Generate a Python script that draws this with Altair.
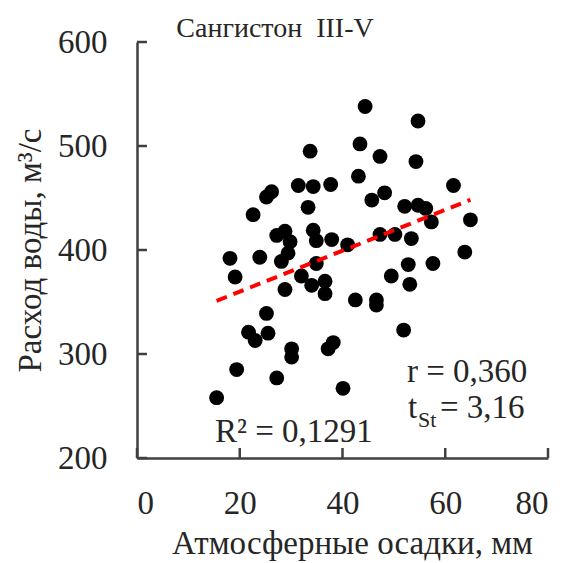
import altair as alt
import pandas as pd

precip = [15.5, 18.1, 19.1, 19.4, 21.7, 23.0, 22.6, 23.9, 25.2, 25.5,
          25.2, 26.2, 27.2, 27.2, 28.8, 29.8, 29.4, 28.1, 28.8, 30.1,
          30.1, 31.4, 32.0, 33.3, 33.7, 34.3, 34.3, 34.9, 34.9, 34.0,
          36.6, 36.6, 37.2, 38.2, 37.7, 37.9, 40.1, 41.0, 42.5, 43.1,
          43.4, 44.4, 45.7, 46.6, 46.6, 47.3, 47.3, 48.2, 49.5, 50.2,
          51.9, 52.1, 52.8, 53.1, 53.4, 54.3, 54.7, 54.7, 56.2, 57.3,
          57.6, 61.6, 63.8, 64.9]
flow = [258, 392, 374, 285, 321, 313, 434, 393, 339, 320,
        451, 456, 277, 414, 418, 408, 397, 389, 362, 305,
        297, 462, 375, 441, 495, 461, 419, 409, 387, 366,
        370, 358, 305, 311, 463, 410, 267, 405, 352, 471,
        502, 538, 448, 352, 347, 490, 415, 455, 375, 415,
        323, 442, 386, 367, 411, 485, 524, 443, 440, 427,
        387, 462, 398, 429]

x_ticks = [0, 20, 40, 60, 80]
y_ticks = [200, 300, 400, 500, 600]

FONT = "Liberation Serif"
FS = 33
INK = "#262626"

df = pd.DataFrame({"x": precip, "y": flow})
xt = pd.DataFrame({"x": x_ticks})
yt = pd.DataFrame({"y": y_ticks})

xscale = alt.Scale(domain=[0, 80], nice=False, zero=False)
yscale = alt.Scale(domain=[200, 600], nice=False, zero=False)

x_axis = alt.Axis(values=x_ticks, ticks=False, tickSize=0, grid=False,
                  labelFont=FONT, labelFontSize=FS, labelColor=INK,
                  labelPadding=29, domainColor="#404040", domainWidth=2.5,
                  title="Атмосферные осадки, мм", titleFont=FONT,
                  titleFontSize=FS, titleFontWeight="normal", titleColor=INK,
                  titleX=215, titleY=95, titleBaseline="alphabetic",
                  titleAlign="center")
y_axis = alt.Axis(values=y_ticks, ticks=False, tickSize=0, grid=False,
                  labelFont=FONT, labelFontSize=FS, labelColor=INK,
                  labelPadding=30, domainColor="#404040", domainWidth=2.5,
                  title="Расход воды, м³/с", titleFont=FONT,
                  titleFontSize=FS, titleFontWeight="normal", titleColor=INK,
                  titleX=-97, titleY=208, titleAngle=270,
                  titleBaseline="alphabetic", titleAlign="center")

points = alt.Chart(df).mark_circle(size=220, color="black", opacity=1).encode(
    x=alt.X("x:Q", scale=xscale, axis=x_axis),
    y=alt.Y("y:Q", scale=yscale, axis=y_axis),
)

trend = alt.Chart(df).transform_regression("x", "y").mark_line(
    color="#ff0000", strokeWidth=4, strokeDash=[11, 7]
).encode(x=alt.X("x:Q", scale=xscale), y=alt.Y("y:Q", scale=yscale))

yticks_inner = alt.Chart(yt).mark_rule(color="#404040", strokeWidth=2.5).encode(
    y=alt.Y("y:Q", scale=yscale), x=alt.value(0), x2=alt.value(10)
)
xticks_inner = alt.Chart(xt).mark_rule(color="#404040", strokeWidth=2.5).encode(
    x=alt.X("x:Q", scale=xscale), y=alt.value(416), y2=alt.value(406)
)


def label(text, x, y, size=FS, color=INK):
    return alt.Chart(pd.DataFrame({"t": [text]})).mark_text(
        font=FONT, fontSize=size, color=color, align="left",
        baseline="alphabetic"
    ).encode(text="t:N", x=alt.value(x), y=alt.value(y))


title = alt.Chart(pd.DataFrame({"t": ["Сангистон\u00a0 III-V"]})).mark_text(
    font=FONT, fontSize=28, color=INK, align="center", baseline="alphabetic"
).encode(text="t:N", x=alt.value(138), y=alt.value(-5))

texts = [
    label("r = 0,360", 270, 340),
    label("t", 271, 376),
    label("St", 281, 385, size=22),
    label("= 3,16", 303, 376),
    label("R² = 0,1291", 78, 400),
]

chart = alt.layer(
    points, trend, yticks_inner, xticks_inner, title, *texts
).properties(
    width=411, height=416,
    autosize=alt.AutoSizeParams(type="none"),
    padding={"left": 137, "top": 42, "right": 25, "bottom": 105},
    background="white",
).configure_view(stroke=None)

chart.save("out.html", embed_options={"renderer": "svg", "actions": False})
